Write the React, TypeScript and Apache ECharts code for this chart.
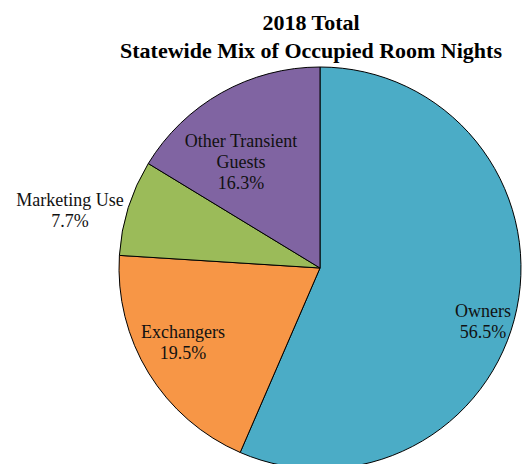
import React, { useEffect, useRef } from "react";
import * as echarts from "echarts";

const categories = ["Owners", "Exchangers", "Marketing Use", "Other Transient Guests"];
const values = [56.5, 19.5, 7.7, 16.3];
const labelLines = ["Owners", "Exchangers", "Marketing Use", "Other Transient\nGuests"];
const colors = ["#4BACC6", "#F79646", "#9BBB59", "#8064A2"];
const labelPos = [
  [483, 321],
  [183, 342],
  [70, 210],
  [241, 162],
];

export default function App() {
  const ref = useRef<HTMLDivElement>(null);
  useEffect(() => {
    if (!ref.current) return;
    const chart = echarts.init(ref.current, null, { renderer: "svg" });
    chart.setOption({
      animation: false,
      backgroundColor: "#ffffff",
      title: {
        text: "2018 Total\nStatewide Mix of Occupied Room Nights",
        left: 306,
        top: 3,
        textAlign: "center",
        textStyle: {
          fontFamily: "Liberation Serif",
          fontWeight: "bold",
          fontSize: 22,
          lineHeight: 28,
          color: "#000",
        },
      },
      series: [
        {
          type: "pie",
          center: [320, 268],
          radius: 201,
          startAngle: 90,
          clockwise: true,
          silent: true,
          itemStyle: { borderColor: "#000", borderWidth: 1 },
          label: {
            show: true,
            position: "inside",
            fontFamily: "Liberation Serif",
            fontSize: 18,
            lineHeight: 21,
            color: "#111",
            align: "center",
            verticalAlign: "middle",
            formatter: (p: any) => `${labelLines[p.dataIndex]}\n${values[p.dataIndex].toFixed(1)}%`,
          },
          labelLine: { show: false },
          labelLayout: (p: any) => ({
            x: labelPos[p.dataIndex][0],
            y: labelPos[p.dataIndex][1],
            align: "center",
            verticalAlign: "middle",
          }),
          data: categories.map((c, i) => ({
            name: c,
            value: values[i],
            itemStyle: { color: colors[i] },
          })),
        },
      ],
    });
    return () => chart.dispose();
  }, []);
  return (
    <div
      ref={ref}
      style={{ position: "absolute", left: 0, top: 0, width: 523, height: 464 }}
    />
  );
}
